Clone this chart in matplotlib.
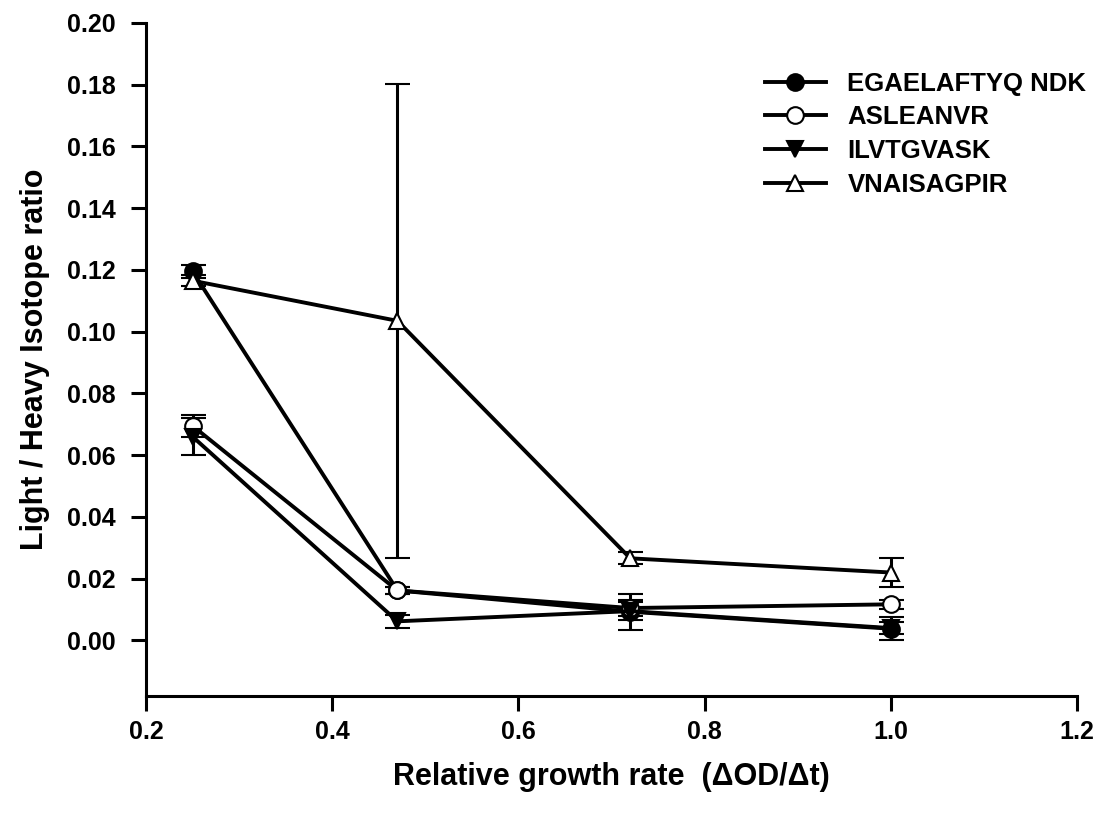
import matplotlib.pyplot as plt
from matplotlib.lines import Line2D

plt.rcParams['font.family'] = ['Liberation Sans', 'DejaVu Sans']
plt.rcParams['font.weight'] = 'bold'

x = [0.25, 0.47, 0.72, 1.0]

labels = ['EGAELAFTYQ NDK', 'ASLEANVR', 'ILVTGVASK', 'VNAISAGPIR']
egael = [0.1195, 0.0162, 0.0093, 0.0038]
egael_err = [0.0022, 0.0010, 0.0058, 0.0038]
aslea = [0.0695, 0.0162, 0.0105, 0.0117]
aslea_err = [0.0035, 0.0010, 0.0025, 0.0015]
ilvtg = [0.0660, 0.0062, 0.0095, 0.0040]
ilvtg_err = [0.0060, 0.0022, 0.0030, 0.0020]
vnais = [0.1165, 0.1035, 0.0266, 0.0220]
vnais_err = [0.0018, 0.0767, 0.0020, 0.0047]

markers = ['o', 'o', 'v', '^']
faces = ['black', 'white', 'black', 'white']
series = [(egael, egael_err), (aslea, aslea_err), (ilvtg, ilvtg_err), (vnais, vnais_err)]

fig = plt.figure(figsize=(11.06, 8.16), dpi=100)
ax = fig.add_axes([0.132, 0.147, 0.842, 0.825])

handles = []
for (y, e), lab, m, fc in zip(series, labels, markers, faces):
    ms = 12 if m == 'o' else 11.5
    ax.errorbar(x, y, yerr=e, color='black', lw=2.8, marker=m,
                markersize=ms, markerfacecolor=fc,
                markeredgecolor='black', markeredgewidth=1.5,
                capsize=9, capthick=2.2, elinewidth=2.2)
    handles.append(Line2D([], [], color='black', lw=2.8, marker=m, markersize=ms,
                          markerfacecolor=fc, markeredgecolor='black',
                          markeredgewidth=1.5, label=lab))

ax.set_xlim(0.2, 1.2)
ax.set_ylim(-0.018, 0.2)
ax.set_xticks([0.2, 0.4, 0.6, 0.8, 1.0, 1.2])
ax.set_yticks([0.00, 0.02, 0.04, 0.06, 0.08, 0.10, 0.12, 0.14, 0.16, 0.18, 0.20])
ax.set_xticklabels(['0.2', '0.4', '0.6', '0.8', '1.0', '1.2'])
ax.set_yticklabels(['%.2f' % v for v in ax.get_yticks()])

for s in ['top', 'right']:
    ax.spines[s].set_visible(False)
for s in ['left', 'bottom']:
    ax.spines[s].set_linewidth(2.2)
ax.tick_params(direction='out', length=11, width=2.2, labelsize=18, pad=11)
ax.tick_params(axis='x', pad=6)

ax.set_xlabel('Relative growth rate  (\u0394OD/\u0394t)', fontsize=22, fontweight='bold', labelpad=13)
ax.set_ylabel('Light / Heavy Isotope ratio', fontsize=22, fontweight='bold', labelpad=12)

ax.legend(handles=handles, loc='upper left', bbox_to_anchor=(0.64, 0.962), frameon=False,
          fontsize=18.5, handlelength=2.35, numpoints=1, labelspacing=0.38,
          handletextpad=0.85)

fig.savefig('out.png', dpi=100)
